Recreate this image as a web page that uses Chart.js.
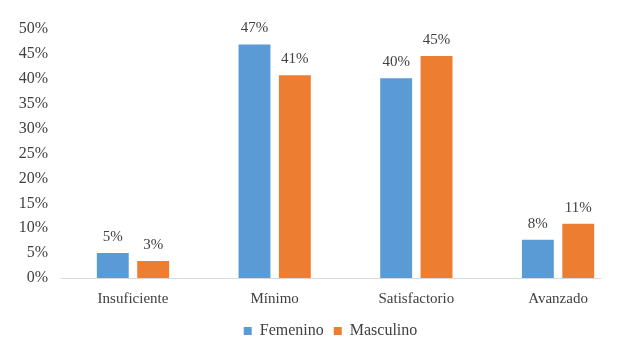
<!DOCTYPE html>
<html>
<head>
<meta charset="utf-8">
<script src="https://cdn.jsdelivr.net/npm/chart.js@4.4.1/dist/chart.umd.min.js"></script>
<style>
  html, body { margin: 0; padding: 0; background: #fff; overflow: hidden; }
  #wrap { width: 621px; height: 344px; }
</style>
</head>
<body>
<div id="wrap"><canvas id="chart" width="621" height="344"></canvas></div>
<script>
// data
const categories = ["Insuficiente", "Mínimo", "Satisfactorio", "Avanzado"];
const femenino = [5.0, 46.9, 40.1, 7.7];
const masculino = [3.4, 40.7, 44.6, 10.9];
const yTicks = [0, 5, 10, 15, 20, 25, 30, 35, 40, 45, 50];

const textColor = "#404040";
const serif = "'Liberation Serif', 'Times New Roman', serif";

const toPoints = (arr) => arr.map((v, i) => ({ x: i, y: v }));

// labels above each bar, like Excel data labels
const barLabels = {
  id: "barLabels",
  afterDatasetsDraw(chart) {
    const ctx = chart.ctx;
    ctx.save();
    ctx.font = "15px " + serif;
    ctx.fillStyle = textColor;
    ctx.textAlign = "center";
    ctx.textBaseline = "alphabetic";
    chart.data.datasets.forEach((ds, di) => {
      chart.getDatasetMeta(di).data.forEach((bar, i) => {
        ctx.fillText(Math.round(ds.data[i].y) + "%", bar.x, bar.y - 12);
      });
    });
    ctx.restore();
  }
};

const ctx = document.getElementById("chart").getContext("2d");
new Chart(ctx, {
  type: "bar",
  data: {
    datasets: [
      {
        label: "Femenino",
        data: toPoints(femenino),
        backgroundColor: "#5B9BD5",
        categoryPercentage: 0.57,
        barPercentage: 0.79
      },
      {
        label: "Masculino",
        data: toPoints(masculino),
        backgroundColor: "#ED7D31",
        categoryPercentage: 0.57,
        barPercentage: 0.79
      }
    ]
  },
  options: {
    responsive: false,
    animation: false,
    layout: { padding: { top: 29, left: 0, right: 21, bottom: -5 } },
    plugins: {
      tooltip: { enabled: false },
      legend: {
        position: "bottom",
        fullSize: false,
        labels: {
          boxWidth: 8,
          boxHeight: 8,
          padding: 10,
          color: textColor,
          font: { family: serif, size: 16 }
        }
      }
    },
    scales: {
      x: {
        type: "linear",
        min: -0.508,
        max: 3.296,
        offset: false,
        grid: { display: false },
        border: { display: true, color: "#D9D9D9", width: 1 },
        afterBuildTicks: (axis) => {
          axis.ticks = categories.map((c, i) => ({ value: i }));
        },
        afterFit: (axis) => { axis.height = 35; },
        ticks: {
          autoSkip: false,
          maxRotation: 0,
          padding: 4,
          color: textColor,
          font: { family: serif, size: 15 },
          callback: (v) => categories[v]
        }
      },
      y: {
        min: 0,
        max: 50,
        grid: { display: false },
        border: { display: false },
        afterBuildTicks: (axis) => {
          axis.ticks = yTicks.map((v) => ({ value: v }));
        },
        afterFit: (axis) => { axis.width = 61; },
        ticks: {
          padding: 5,
          color: textColor,
          font: { family: serif, size: 16 },
          callback: (v) => v + "%"
        }
      }
    }
  },
  plugins: [barLabels]
});
</script>
</body>
</html>
